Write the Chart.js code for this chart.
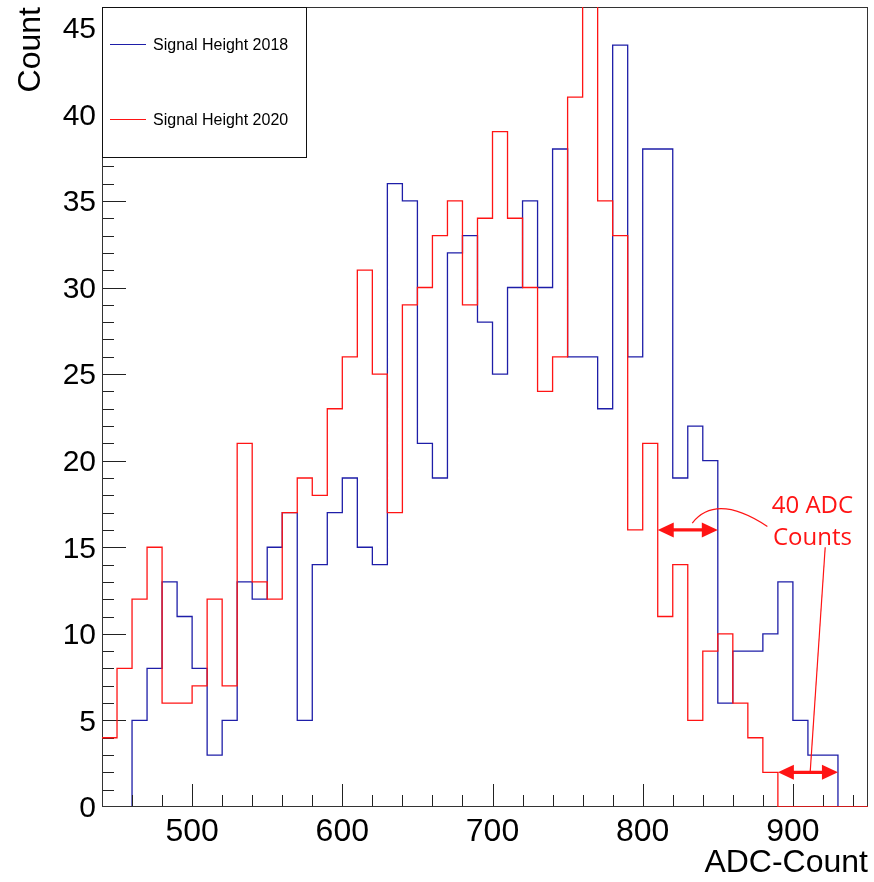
<!DOCTYPE html>
<html>
<head>
<meta charset="utf-8">
<script src="https://cdn.jsdelivr.net/npm/chart.js@4.4.0/dist/chart.umd.min.js"></script>
<style>
html,body{margin:0;padding:0;background:#fff;}
#wrap{width:874px;height:882px;position:relative;}
</style>
</head>
<body>
<div id="wrap"><canvas id="c" width="874" height="882"></canvas></div>
<script>
// ---- data ----
const binLowEdges = [440,450,460,470,480,490,500,510,520,530,540,550,560,570,580,590,600,610,620,630,640,650,660,670,680,690,700,710,720,730,740,750,760,770,780,790,800,810,820,830,840,850,860,870,880,890,900,910,920,930,940];
const binUpperEdge = 950;
const signal2018 = [0,0,5,8,13,11,8,3,5,13,12,15,17,5,14,17,19,15,14,36,35,21,19,32,33,28,25,30,35,30,38,26,26,23,44,26,38,38,19,22,20,6,9,9,10,13,5,3,3,0,0];
const signal2020 = [4,8,12,15,6,6,7,12,7,21,13,12,17,19,18,23,26,31,25,17,29,30,33,35,29,34,39,34,30,24,26,41,48,35,33,16,21,11,14,5,9,10,6,4,2,0,0,0,0,0,0];
const seriesNames = ['Signal Height 2018','Signal Height 2020'];
const xTickValues = [500,600,700,800,900];
const yTickValues = [0,5,10,15,20,25,30,35,40,45];
const xRange = [440,950];
const yRange = [0,46.2];
const xTitle = 'ADC-Count';
const yTitle = 'Count';
const noteLines = ['40 ADC','Counts'];
const arrowSpans = [[810,850,16],[890,930,2]];

const BLUE = '#1e1ea8';
const RED = '#ff1414';

function stepPoints(vals){
  const pts = binLowEdges.map((x,i)=>({x:x,y:vals[i]}));
  pts.push({x:binUpperEdge,y:vals[vals.length-1]});
  return pts;
}

const framePlugin = {
  id:'frameTicks',
  afterDatasetDraw(chart,args){
    if(args.index!==0) return;
    const {ctx,chartArea:a,scales:{x,y}} = chart;
    ctx.save();
    ctx.strokeStyle='#222';
    ctx.lineWidth=1;
    ctx.beginPath();
    for(let v=460; v<binUpperEdge; v+=20){
      const px=Math.round(x.getPixelForValue(v))+0.5;
      const len = (v%100===0)?23:12;
      ctx.moveTo(px,a.bottom); ctx.lineTo(px,a.bottom-len);
    }
    for(let v=1; v<yRange[1]; v+=1){
      const py=Math.round(y.getPixelForValue(v))+0.5;
      const len = (v%5===0)?24:12;
      ctx.moveTo(a.left,py); ctx.lineTo(a.left+len,py);
    }
    ctx.stroke();
    ctx.strokeStyle='#333';
    ctx.strokeRect(Math.round(a.left)+0.5,Math.round(a.top)+0.5,Math.round(a.right-a.left)-1,Math.round(a.bottom-a.top)-1);
    ctx.restore();
  },
  afterDraw(chart){
    const {ctx,chartArea:a,scales:{x,y}} = chart;
    ctx.save();
    const lx=Math.round(a.left)+0.5, ly=Math.round(a.top)+0.5, lw=204, lh=150;
    ctx.fillStyle='#fff';
    ctx.fillRect(lx,ly,lw,lh);
    ctx.strokeStyle='#111';
    ctx.lineWidth=1;
    ctx.strokeRect(lx,ly,lw,lh);
    const rows=[a.top+37.5,a.top+112.5];
    const cols=[BLUE,RED];
    ctx.font='16px "Liberation Sans", Arial, sans-serif';
    ctx.textBaseline='middle';
    ctx.textAlign='left';
    rows.forEach((ry,i)=>{
      ctx.strokeStyle=cols[i];
      ctx.lineWidth=1.2;
      ctx.beginPath(); ctx.moveTo(a.left+8,ry); ctx.lineTo(a.left+44,ry); ctx.stroke();
      ctx.fillStyle='#000';
      ctx.fillText(seriesNames[i],a.left+51,ry+1);
    });
    ctx.strokeStyle=RED; ctx.fillStyle=RED;
    arrowSpans.forEach(([x0,x1,v])=>{
      const p0=x.getPixelForValue(x0), p1=x.getPixelForValue(x1), py=y.getPixelForValue(v);
      const hl=16, hw=7.5;
      ctx.lineWidth=3.3;
      ctx.beginPath(); ctx.moveTo(p0+hl-2,py); ctx.lineTo(p1-hl+2,py); ctx.stroke();
      ctx.beginPath(); ctx.moveTo(p0,py); ctx.lineTo(p0+hl,py-hw); ctx.lineTo(p0+hl,py+hw); ctx.closePath(); ctx.fill();
      ctx.beginPath(); ctx.moveTo(p1,py); ctx.lineTo(p1-hl,py-hw); ctx.lineTo(p1-hl,py+hw); ctx.closePath(); ctx.fill();
    });
    ctx.lineWidth=1.2;
    ctx.beginPath();
    ctx.moveTo(x.getPixelForValue(833),y.getPixelForValue(16.4));
    ctx.quadraticCurveTo(x.getPixelForValue(849),y.getPixelForValue(18.15),x.getPixelForValue(883),y.getPixelForValue(16.2));
    ctx.stroke();
    ctx.beginPath();
    ctx.moveTo(x.getPixelForValue(921.5),y.getPixelForValue(15.0));
    ctx.lineTo(x.getPixelForValue(911.5),y.getPixelForValue(2.0));
    ctx.stroke();
    ctx.font='24px "Open Sans", "Noto Sans", sans-serif';
    ctx.textAlign='center';
    ctx.textBaseline='alphabetic';
    const tx=x.getPixelForValue(913);
    ctx.fillText(noteLines[0],tx,y.getPixelForValue(17.0));
    ctx.fillText(noteLines[1],tx,y.getPixelForValue(15.15));
    ctx.restore();
  }
};

new Chart(document.getElementById('c'),{
  type:'line',
  data:{datasets:[
    {label:seriesNames[0],data:stepPoints(signal2018),borderColor:BLUE,borderWidth:1.3,pointRadius:0,stepped:'before',fill:false,order:1},
    {label:seriesNames[1],data:stepPoints(signal2020),borderColor:RED,borderWidth:1.3,pointRadius:0,stepped:'before',fill:false,order:0}
  ]},
  options:{
    responsive:false,
    animation:false,
    devicePixelRatio:1,
    layout:{padding:{top:7,right:6,left:0,bottom:0}},
    plugins:{legend:{display:false},tooltip:{enabled:false}},
    scales:{
      x:{type:'linear',min:xRange[0],max:xRange[1],
        afterBuildTicks(s){s.ticks=xTickValues.map(v=>({value:v}));},
        afterFit(s){s.height=75;s.paddingLeft=0;s.paddingRight=0;},
        grid:{display:false,drawTicks:false},border:{display:false},
        ticks:{color:'#000',font:{family:'"Liberation Sans", Arial, sans-serif',size:32},padding:6,maxRotation:0,autoSkip:false},
        title:{display:true,text:xTitle,align:'end',color:'#000',font:{family:'"Liberation Sans", Arial, sans-serif',size:32},padding:{top:0,bottom:0}}
      },
      y:{type:'linear',min:yRange[0],max:yRange[1],
        afterBuildTicks(s){s.ticks=yTickValues.map(v=>({value:v}));},
        afterFit(s){s.width=102;s.paddingTop=0;s.paddingBottom=0;},
        grid:{display:false,drawTicks:false},border:{display:false},
        ticks:{color:'#000',font:{family:'"Liberation Sans", Arial, sans-serif',size:30},padding:6,labelOffset:2},
        title:{display:true,text:yTitle,align:'end',color:'#000',font:{family:'"Liberation Sans", Arial, sans-serif',size:32},padding:{top:12,bottom:0}}
      }
    }
  },
  plugins:[framePlugin]
});
</script>
</body>
</html>
